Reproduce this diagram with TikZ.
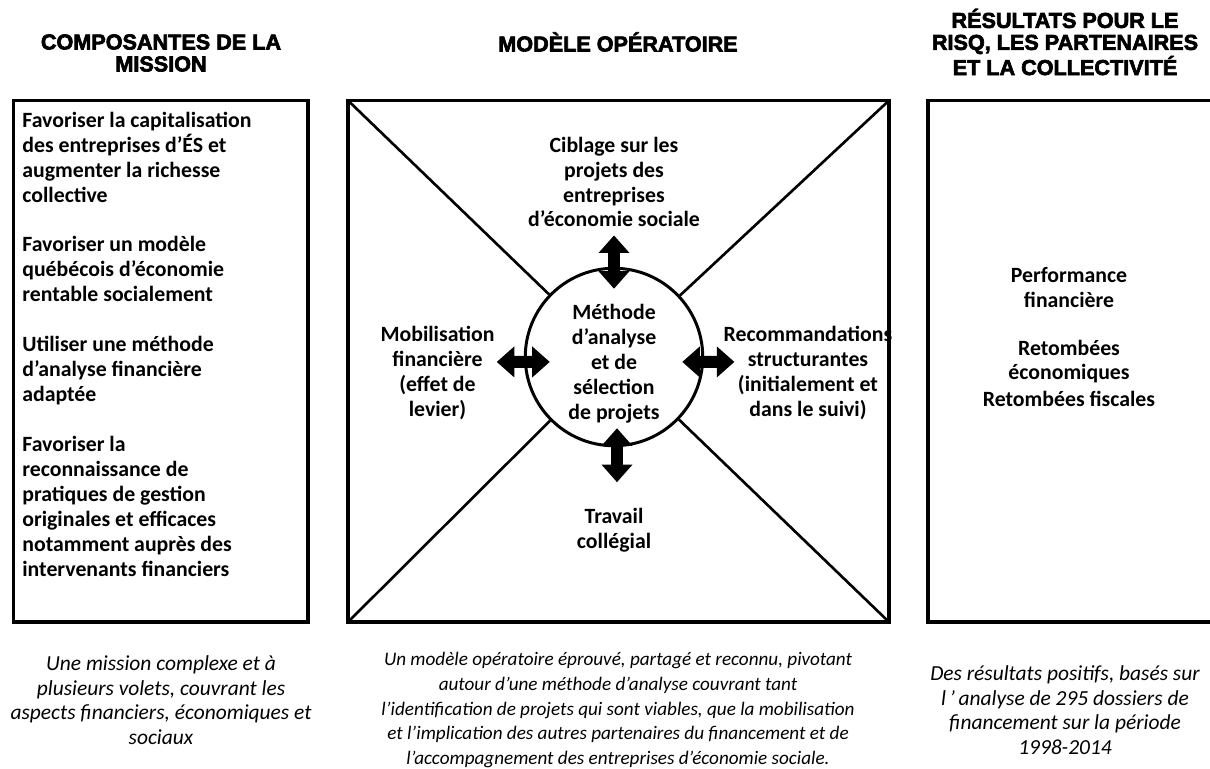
\documentclass[tikz,border=0pt]{standalone}
\usepackage{fontspec}
\setmainfont{Carlito}
\newfontfamily\headfont{Liberation Sans}[BoldFeatures={FakeBold=3}]
\usetikzlibrary{arrows.meta}
\tikzset{
  frame/.style={line width=1.9pt},
  diag/.style={line width=1.5pt},
  lbl/.style={align=center,inner sep=0pt,font=\bfseries\fontsize{12.4}{14.2}\selectfont},
  head/.style={align=center,inner sep=0pt,font=\headfont\bfseries\fontsize{12.3}{12.5}\selectfont},
  note/.style={align=center,inner sep=0pt,font=\itshape\fontsize{12.2}{14}\selectfont},
  blk/.tip={Triangle[length=10pt 0 0,width=17pt 0 0]},
  dblarrow/.style={line width=6.8pt,blk-blk},
}
\begin{document}
\begin{tikzpicture}[x=0.02cm,y=-0.02cm]
\useasboundingbox (0,0) rectangle (1210,768);

% headings
\node[head] (hmis) at (161,53) {COMPOSANTES DE LA\\MISSION};
\node[head] (hmod) at (618,42) {MODÈLE OPÉRATOIRE};
\node[head] (hres) at (1065,42) {RÉSULTATS POUR LE\\RISQ, LES PARTENAIRES\\ET LA COLLECTIVITÉ};

% the three boxes
\coordinate (mnw) at (348,100.5);
\coordinate (mne) at (889,100.5);
\coordinate (msw) at (348,622);
\coordinate (mse) at (889,622);
\draw[frame] (13.5,100.5) rectangle (308,622);
\draw[frame] (mnw) rectangle (mse);
\draw[frame] (928,100.5) rectangle (1215,622);

% mission
\node[lbl,align=left,anchor=north west] (comp) at (22,111.5) {Favoriser la capitalisation\\des entreprises d’ÉS et\\augmenter la richesse\\collective\\[14.2pt]Favoriser un modèle\\québécois d’économie\\rentable socialement\\[14.2pt]Utiliser une méthode\\d’analyse financière\\adaptée\\[14.2pt]Favoriser la\\reconnaissance de\\pratiques de gestion\\originales et efficaces\\notamment auprès des\\intervenants financiers};

% modele operatoire
\node[circle,draw,line width=1.7pt,minimum size=101pt] (circ) at (614,357) {};
\node[lbl] (met) at (614,363.5) {Méthode\\d’analyse\\et de\\sélection\\de projets};
\node[lbl] (cib) at (614,182) {Ciblage sur les\\projets des\\entreprises\\d’économie sociale};
\node[lbl] (mob) at (437.5,373) {Mobilisation\\financière\\(effet de\\levier)};
\node[lbl] (rec) at (808,373) {Recommandations\\structurantes\\(initialement et\\dans le suivi)};
\node[lbl] (tra) at (614,530.5) {Travail\\collégial};

\draw[diag] (mnw) -- (circ);
\draw[diag] (mne) -- (circ);
\draw[diag] (msw) -- (circ);
\draw[diag] (mse) -- (circ);

\draw[dblarrow] ([yshift=-4.5pt]cib.south) -- ([yshift=-12.5pt]circ.north);
\draw[dblarrow] ([xshift=1.7pt,yshift=10.8pt]circ.south) -- ([xshift=1.7pt,yshift=14.8pt]tra.north);
\draw[dblarrow] ([xshift=1.1pt,yshift=6.3pt]mob.east) -- ([xshift=14.8pt,yshift=-2.8pt]circ.west);
\draw[dblarrow] ([xshift=-12.5pt,yshift=-2.8pt]circ.east) -- ([xshift=6.3pt,yshift=6.3pt]rec.west);

% resultats
\node[lbl] (res) at (1069,337) {Performance\\financière\\[13pt]Retombées\\économiques\\[1pt]Retombées fiscales};

% notes under the boxes
\node[note] (nmis) at (161,700) {Une mission complexe et à\\plusieurs volets, couvrant les\\aspects financiers, économiques et\\sociaux};
\node[note,font=\itshape\fontsize{10.9}{14}\selectfont] (nmod) at (618,710) {Un modèle opératoire éprouvé, partagé et reconnu, pivotant\\autour d’une méthode d’analyse couvrant tant\\l’identification de projets qui sont viables, que la mobilisation\\et l’implication des autres partenaires du financement et de\\l’accompagnement des entreprises d’économie sociale.};
\node[note] (nres) at (1065,710) {Des résultats positifs, basés sur\\l\,’\,analyse de 295 dossiers de\\financement sur la période\\1998-2014};
\end{tikzpicture}
\end{document}
